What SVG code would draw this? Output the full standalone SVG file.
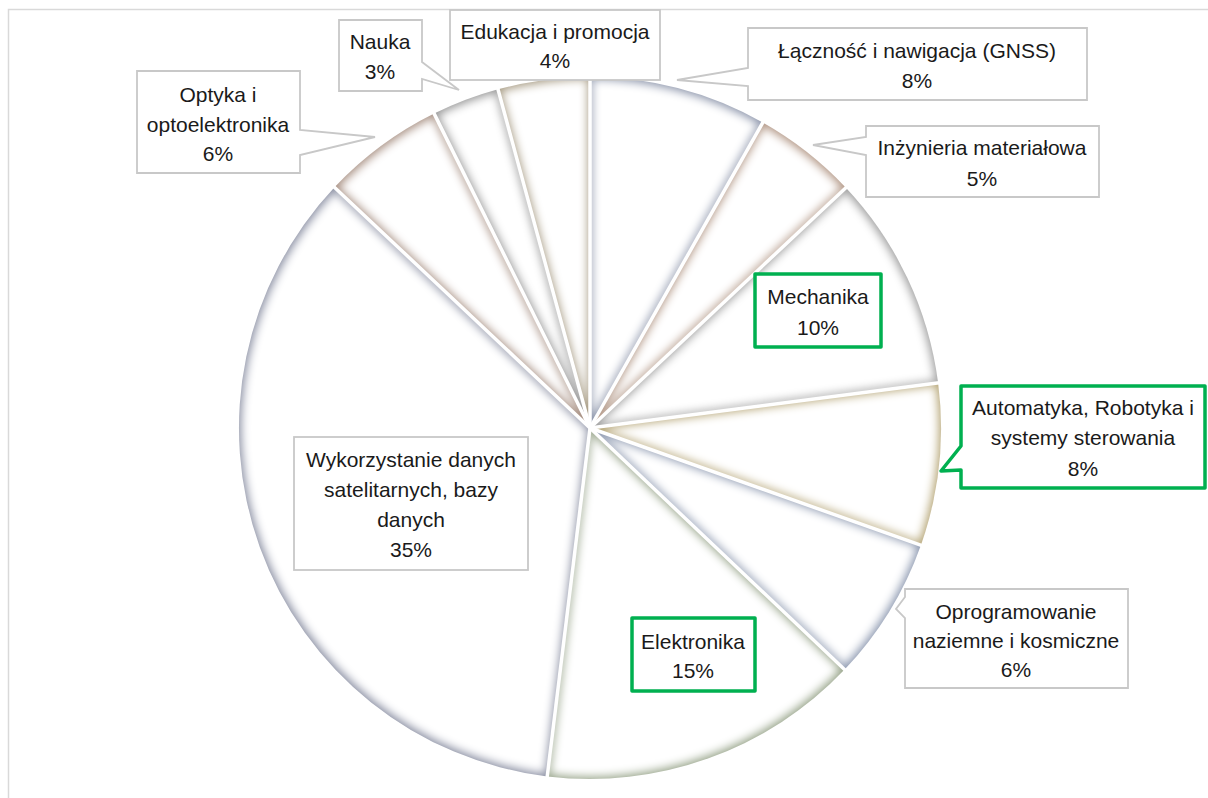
<svg xmlns="http://www.w3.org/2000/svg" width="1208" height="798" viewBox="0 0 1208 798">
  <defs>
    <filter id="soft" x="-10%" y="-10%" width="120%" height="120%" color-interpolation-filters="sRGB">
      <feMorphology in="SourceAlpha" operator="erode" radius="2" result="er"/>
      <feGaussianBlur in="er" stdDeviation="5" result="erb"/>
      <feFlood flood-color="#ffffff" result="w"/>
      <feComposite in="w" in2="erb" operator="in" result="core"/>
      <feMerge>
        <feMergeNode in="SourceGraphic"/>
        <feMergeNode in="core"/>
      </feMerge>
    </filter>
    <style>
      .slice { filter: url(#soft); }
      .lbl { font-family: "Liberation Sans", Arial, sans-serif; font-size: 21px; fill: #1a1a1a; text-anchor: middle; }
      .box { fill: #ffffff; stroke: #c8c8c8; stroke-width: 1.8; }
      .hl { fill: #ffffff; stroke: #00b050; stroke-width: 3.5; stroke-linejoin: round; }
      .sep { stroke: #ffffff; stroke-width: 3.5; stroke-linecap: butt; }
      .frame { stroke: #d9d9d9; stroke-width: 1.5; fill: none; }
    </style>
  </defs>
  <rect width="1208" height="798" fill="#ffffff"/>
  <path class="frame" d="M8.5,798 V9.5 H1208"/>

  <g id="pie">
    <path id="s-lacznosc" class="slice" fill="#8a93a9" d="M590,428 L590,77 A351,351 0 0 1 762.8,122.5 Z"/>
    <path id="s-inzynieria" class="slice" fill="#b09482" d="M590,428 L762.8,122.5 A351,351 0 0 1 845.9,187.7 Z"/>
    <path id="s-mechanika" class="slice" fill="#9c9c9c" d="M590,428 L845.9,187.7 A351,351 0 0 1 938.1,382.8 Z"/>
    <path id="s-automatyka" class="slice" fill="#b3a271" d="M590,428 L938.1,382.8 A351,351 0 0 1 920.9,545.2 Z"/>
    <path id="s-oprogramowanie" class="slice" fill="#8a96ae" d="M590,428 L920.9,545.2 A351,351 0 0 1 844.6,669.6 Z"/>
    <path id="s-elektronika" class="slice" fill="#94a186" d="M590,428 L844.6,669.6 A351,351 0 0 1 547.2,776.4 Z"/>
    <path id="s-wykorzystanie" class="slice" fill="#878ca0" d="M590,428 L547.2,776.4 A351,351 0 0 1 334.5,187.3 Z"/>
    <path id="s-optyka" class="slice" fill="#a68e80" d="M590,428 L334.5,187.3 A351,351 0 0 1 434.1,113.6 Z"/>
    <path id="s-nauka" class="slice" fill="#959595" d="M590,428 L434.1,113.6 A351,351 0 0 1 498,89.3 Z"/>
    <path id="s-edukacja" class="slice" fill="#a69a82" d="M590,428 L498,89.3 A351,351 0 0 1 590,77 Z"/>
  </g>

  <g id="connectors">
    <line class="sep" x1="590" y1="428" x2="590" y2="72"/>
    <line class="sep" x1="590" y1="428" x2="765.3" y2="118.1"/>
    <line class="sep" x1="590" y1="428" x2="849.6" y2="184.2"/>
    <line class="sep" x1="590" y1="428" x2="943.1" y2="382.2"/>
    <line class="sep" x1="590" y1="428" x2="925.6" y2="546.9"/>
    <line class="sep" x1="590" y1="428" x2="848.2" y2="673.0"/>
    <line class="sep" x1="590" y1="428" x2="546.6" y2="781.4"/>
    <line class="sep" x1="590" y1="428" x2="330.9" y2="183.9"/>
    <line class="sep" x1="590" y1="428" x2="431.9" y2="109.1"/>
    <line class="sep" x1="590" y1="428" x2="496.7" y2="84.5"/>
  </g>

  <g id="label-edukacja">
    <rect class="box" x="450" y="10" width="210" height="70"/>
    <text class="lbl" x="555" y="39">Edukacja i promocja</text>
    <text class="lbl" x="555" y="68">4%</text>
  </g>
  <g id="label-nauka">
    <path class="box" d="M339,20 H422 V62 L459,90 L422,79 V91 H339 Z"/>
    <text class="lbl" x="380" y="49">Nauka</text>
    <text class="lbl" x="380" y="79">3%</text>
  </g>
  <g id="label-optyka">
    <path class="box" d="M137,71 H300 V130 L375,137 L300,155 V173 H137 Z"/>
    <text class="lbl" x="218" y="102">Optyka i</text>
    <text class="lbl" x="218" y="132">optoelektronika</text>
    <text class="lbl" x="218" y="161">6%</text>
  </g>
  <g id="label-lacznosc">
    <path class="box" d="M748,28 H1087 V100 H748 V86 L677,80 L748,68 Z"/>
    <text class="lbl" x="917" y="58">Łączność i nawigacja (GNSS)</text>
    <text class="lbl" x="917" y="88">8%</text>
  </g>
  <g id="label-inzynieria">
    <path class="box" d="M866,126 H1099 V197 H866 V155 L813,145 L866,137 Z"/>
    <text class="lbl" x="982" y="155">Inżynieria materiałowa</text>
    <text class="lbl" x="982" y="186">5%</text>
  </g>
  <g id="label-mechanika">
    <rect class="hl" x="755" y="274" width="126" height="73"/>
    <text class="lbl" x="818" y="304">Mechanika</text>
    <text class="lbl" x="818" y="335">10%</text>
  </g>
  <g id="label-automatyka">
    <path class="hl" d="M961,386 H1205 V488 H961 V470 L941,471 L961,446 Z"/>
    <text class="lbl" x="1083" y="415">Automatyka, Robotyka i</text>
    <text class="lbl" x="1083" y="445">systemy sterowania</text>
    <text class="lbl" x="1083" y="476">8%</text>
  </g>
  <g id="label-oprogramowanie">
    <path class="box" d="M905,589 H1128 V688 H905 V618 L896,609 L905,597 Z"/>
    <text class="lbl" x="1016" y="619">Oprogramowanie</text>
    <text class="lbl" x="1016" y="648">naziemne i kosmiczne</text>
    <text class="lbl" x="1016" y="677">6%</text>
  </g>
  <g id="label-elektronika">
    <rect class="hl" x="632" y="618" width="123" height="73"/>
    <text class="lbl" x="693" y="649">Elektronika</text>
    <text class="lbl" x="693" y="678">15%</text>
  </g>
  <g id="label-wykorzystanie">
    <rect class="box" x="294" y="437" width="234" height="133"/>
    <text class="lbl" x="411" y="467">Wykorzystanie danych</text>
    <text class="lbl" x="411" y="497">satelitarnych, bazy</text>
    <text class="lbl" x="411" y="527">danych</text>
    <text class="lbl" x="411" y="557">35%</text>
  </g>
</svg>
